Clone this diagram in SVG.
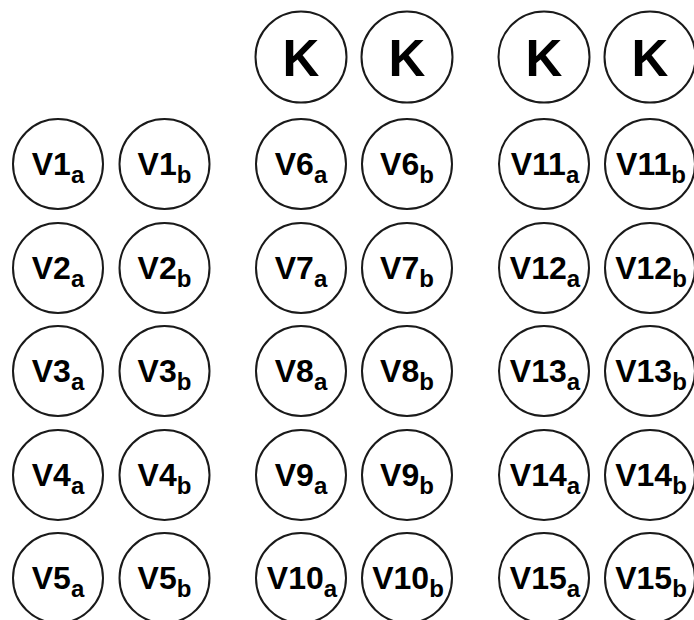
<svg xmlns="http://www.w3.org/2000/svg" width="694" height="620" viewBox="0 0 694 620">
<style>
circle{fill:#fff;stroke:#1a1a1a;stroke-width:2}
text{font-family:"Liberation Sans",Arial,sans-serif;font-weight:bold;font-size:32px;fill:#000;text-anchor:middle}
.k{font-size:51px}
.s{font-size:24px}
</style>
<rect width="694" height="620" fill="#fff"/>
<g id="K1"><circle cx="301" cy="57" r="45.5"/><text class="k" x="301" y="76">K</text></g>
<g id="K2"><circle cx="407" cy="57" r="45.5"/><text class="k" x="407" y="76">K</text></g>
<g id="K3"><circle cx="544" cy="57" r="45.5"/><text class="k" x="544" y="76">K</text></g>
<g id="K4"><circle cx="650" cy="57" r="45.5"/><text class="k" x="650" y="76">K</text></g>
<g id="V1a"><circle cx="58" cy="164" r="45"/><text x="58" y="175">V1<tspan class="s" dy="8">a</tspan></text></g>
<g id="V1b"><circle cx="164.5" cy="164" r="45"/><text x="164.5" y="175">V1<tspan class="s" dy="8">b</tspan></text></g>
<g id="V2a"><circle cx="58" cy="268" r="45"/><text x="58" y="279">V2<tspan class="s" dy="8">a</tspan></text></g>
<g id="V2b"><circle cx="164.5" cy="268" r="45"/><text x="164.5" y="279">V2<tspan class="s" dy="8">b</tspan></text></g>
<g id="V3a"><circle cx="58" cy="371" r="45"/><text x="58" y="382">V3<tspan class="s" dy="8">a</tspan></text></g>
<g id="V3b"><circle cx="164.5" cy="371" r="45"/><text x="164.5" y="382">V3<tspan class="s" dy="8">b</tspan></text></g>
<g id="V4a"><circle cx="58" cy="475" r="45"/><text x="58" y="486">V4<tspan class="s" dy="8">a</tspan></text></g>
<g id="V4b"><circle cx="164.5" cy="475" r="45"/><text x="164.5" y="486">V4<tspan class="s" dy="8">b</tspan></text></g>
<g id="V5a"><circle cx="58" cy="578" r="45"/><text x="58" y="589">V5<tspan class="s" dy="8">a</tspan></text></g>
<g id="V5b"><circle cx="164.5" cy="578" r="45"/><text x="164.5" y="589">V5<tspan class="s" dy="8">b</tspan></text></g>
<g id="V6a"><circle cx="301" cy="164" r="45"/><text x="301" y="175">V6<tspan class="s" dy="8">a</tspan></text></g>
<g id="V6b"><circle cx="407" cy="164" r="45"/><text x="407" y="175">V6<tspan class="s" dy="8">b</tspan></text></g>
<g id="V7a"><circle cx="301" cy="268" r="45"/><text x="301" y="279">V7<tspan class="s" dy="8">a</tspan></text></g>
<g id="V7b"><circle cx="407" cy="268" r="45"/><text x="407" y="279">V7<tspan class="s" dy="8">b</tspan></text></g>
<g id="V8a"><circle cx="301" cy="371" r="45"/><text x="301" y="382">V8<tspan class="s" dy="8">a</tspan></text></g>
<g id="V8b"><circle cx="407" cy="371" r="45"/><text x="407" y="382">V8<tspan class="s" dy="8">b</tspan></text></g>
<g id="V9a"><circle cx="301" cy="475" r="45"/><text x="301" y="486">V9<tspan class="s" dy="8">a</tspan></text></g>
<g id="V9b"><circle cx="407" cy="475" r="45"/><text x="407" y="486">V9<tspan class="s" dy="8">b</tspan></text></g>
<g id="V10a"><circle cx="301" cy="578" r="45"/><text x="302" y="589">V10<tspan class="s" dy="8">a</tspan></text></g>
<g id="V10b"><circle cx="407" cy="578" r="45"/><text x="408" y="589">V10<tspan class="s" dy="8">b</tspan></text></g>
<g id="V11a"><circle cx="544" cy="164" r="45"/><text x="545" y="175">V11<tspan class="s" dy="8">a</tspan></text></g>
<g id="V11b"><circle cx="650" cy="164" r="45"/><text x="651" y="175">V11<tspan class="s" dy="8">b</tspan></text></g>
<g id="V12a"><circle cx="544" cy="268" r="45"/><text x="545" y="279">V12<tspan class="s" dy="8">a</tspan></text></g>
<g id="V12b"><circle cx="650" cy="268" r="45"/><text x="651" y="279">V12<tspan class="s" dy="8">b</tspan></text></g>
<g id="V13a"><circle cx="544" cy="371" r="45"/><text x="545" y="382">V13<tspan class="s" dy="8">a</tspan></text></g>
<g id="V13b"><circle cx="650" cy="371" r="45"/><text x="651" y="382">V13<tspan class="s" dy="8">b</tspan></text></g>
<g id="V14a"><circle cx="544" cy="475" r="45"/><text x="545" y="486">V14<tspan class="s" dy="8">a</tspan></text></g>
<g id="V14b"><circle cx="650" cy="475" r="45"/><text x="651" y="486">V14<tspan class="s" dy="8">b</tspan></text></g>
<g id="V15a"><circle cx="544" cy="578" r="45"/><text x="545" y="589">V15<tspan class="s" dy="8">a</tspan></text></g>
<g id="V15b"><circle cx="650" cy="578" r="45"/><text x="651" y="589">V15<tspan class="s" dy="8">b</tspan></text></g>
<g id="connectors"/>
</svg>
